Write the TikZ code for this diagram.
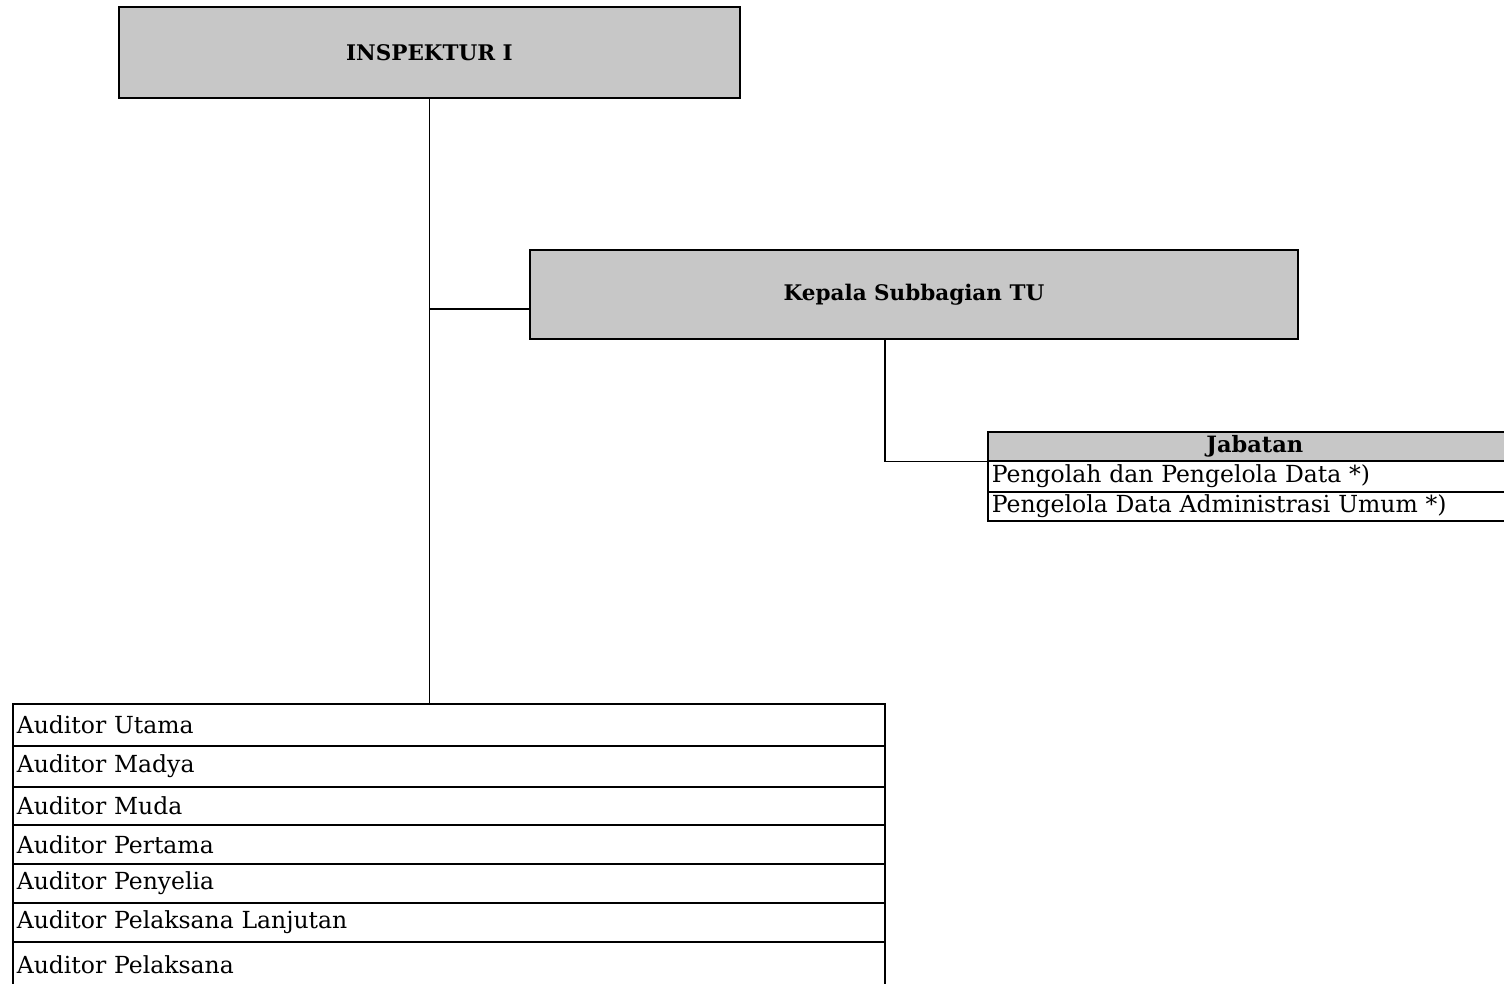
\documentclass[tikz,border=0pt]{standalone}
\usepackage{fontspec}
\setmainfont{DejaVu Serif}
\begin{document}
\begin{tikzpicture}[x=1pt,y=-1pt,
  line width=1.6pt,
  headbox/.style={draw=black, fill=black!22, inner sep=0pt, font=\fontsize{21.5}{24}\selectfont\bfseries},
  rowbox/.style={draw=black, inner xsep=4pt, inner ysep=0pt, align=left, font=\fontsize{23.5}{26}\selectfont, anchor=north west},
  conn/.style={draw=black, line width=1.6pt}]
\useasboundingbox (0,0) rectangle (1504,984);
\clip (0,0) rectangle (1504,984);
% top boxes
\node[headbox, minimum width=621pt, minimum height=91pt] (insp) at (429.5,52.5) {INSPEKTUR I};
\node[headbox, minimum width=768pt, minimum height=89pt] (kasub) at (914,294.5) {Kepala Subbagian TU};
% Jabatan table
\node[rowbox, fill=black!22, minimum width=534pt, minimum height=29pt, text width=526pt, align=center, font=\fontsize{22.5}{24}\selectfont\bfseries] (jab) at (987,431) {Jabatan};
\node[rowbox, minimum width=534pt, minimum height=31pt, text width=526pt] (j1) at (987,460) {Pengolah dan Pengelola Data *)};
\node[rowbox, minimum width=534pt, minimum height=29pt, text width=526pt] (j2) at (987,491) {Pengelola Data Administrasi Umum *)};
% Auditor table
\node[rowbox, minimum width=872pt, minimum height=42pt, text width=864pt] (a1) at (12,703) {Auditor Utama};
\node[rowbox, minimum width=872pt, minimum height=41pt, text width=864pt] (a2) at (12,745) {Auditor Madya};
\node[rowbox, minimum width=872pt, minimum height=38pt, text width=864pt] (a3) at (12,786) {Auditor Muda};
\node[rowbox, minimum width=872pt, minimum height=39pt, text width=864pt] (a4) at (12,824) {Auditor Pertama};
\node[rowbox, minimum width=872pt, minimum height=39pt, text width=864pt] (a5) at (12,863) {Auditor Penyelia};
\node[rowbox, minimum width=872pt, minimum height=39pt, text width=864pt] (a6) at (12,902) {Auditor Pelaksana Lanjutan};
\node[rowbox, minimum width=872pt, minimum height=46pt, text width=864pt] (a7) at (12,941) {Auditor Pelaksana};
% connectors
\coordinate (kw) at (530,309);
\coordinate (jn) at (insp.south |- kw);
\draw[conn] (insp.south) -- (insp.south |- a1.north);
\draw[conn] (jn) -- (kw);
\coordinate (kb) at (885,339);
\draw[conn] (kasub.south -| kb) |- (jab.south west);
\end{tikzpicture}
\end{document}
